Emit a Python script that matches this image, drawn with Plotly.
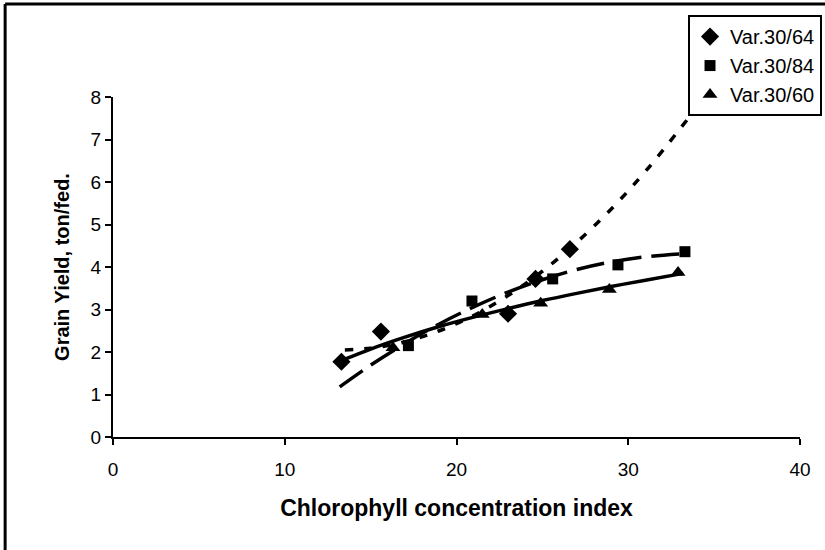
import plotly.graph_objects as go

# --- observed points ---
x_3064 = [13.3, 15.6, 23.0, 24.6, 26.6]
y_3064 = [1.77, 2.48, 2.90, 3.72, 4.42]

x_3084 = [17.2, 20.9, 25.6, 29.4, 33.3]
y_3084 = [2.15, 3.20, 3.72, 4.05, 4.36]

x_3060 = [16.3, 21.5, 24.9, 28.9, 32.9]
y_3060 = [2.10, 2.88, 3.15, 3.47, 3.87]

# --- trend lines ---
tx_3064 = [13.5, 15, 17, 19, 21, 23, 25, 27, 29, 31, 33.5]
ty_3064 = [2.05, 2.09, 2.24, 2.50, 2.86, 3.33, 3.90, 4.58, 5.36, 6.25, 7.50]

tx_3084 = [13.2, 15, 17, 19, 21, 23, 25, 27, 29, 31, 33.5]
ty_3084 = [1.18, 1.69, 2.20, 2.66, 3.06, 3.41, 3.70, 3.94, 4.12, 4.24, 4.32]

tx_3060 = [13.5, 15, 17, 19, 21, 23, 25, 27, 29, 31, 33.2]
ty_3060 = [1.83, 2.07, 2.35, 2.60, 2.82, 3.02, 3.21, 3.38, 3.54, 3.69, 3.85]

names = ["Var.30/64", "Var.30/84", "Var.30/60"]
x_ticks = [0, 10, 20, 30, 40]
y_ticks = [0, 1, 2, 3, 4, 5, 6, 7, 8]

fig = go.Figure()

# trend lines
fig.add_trace(go.Scatter(x=tx_3064, y=ty_3064, mode="lines", showlegend=False,
                         line=dict(color="black", width=3.5, dash="8px,11px", shape="spline")))
fig.add_trace(go.Scatter(x=tx_3084, y=ty_3084, mode="lines", showlegend=False,
                         line=dict(color="black", width=3.5, dash="28px,10px", shape="spline")))
fig.add_trace(go.Scatter(x=tx_3060, y=ty_3060, mode="lines", showlegend=False,
                         line=dict(color="black", width=3.5, shape="spline")))

# markers
fig.add_trace(go.Scatter(x=x_3064, y=y_3064, mode="markers", name=names[0],
                         marker=dict(symbol="diamond", size=14, color="black")))
fig.add_trace(go.Scatter(x=x_3084, y=y_3084, mode="markers", name=names[1],
                         marker=dict(symbol="square", size=11, color="black")))
fig.add_trace(go.Scatter(x=x_3060, y=y_3060, mode="markers", name=names[2],
                         marker=dict(symbol="triangle-up", size=13, color="black")))

font_main = "Liberation Sans, Arial, sans-serif"

fig.update_layout(
    width=825, height=550,
    margin=dict(l=113, r=25, t=97, b=113, autoexpand=False),
    paper_bgcolor="white", plot_bgcolor="white",
    font=dict(family=font_main, color="black", size=19),
    showlegend=True,
    legend=dict(x=0.837, y=1.241, xanchor="left", yanchor="top",
                bordercolor="black", borderwidth=2, bgcolor="white",
                font=dict(size=20, family=font_main), itemwidth=30,
                tracegroupgap=0),
    xaxis=dict(range=[0, 40], tickvals=x_ticks,
               showline=True, linecolor="black", linewidth=2,
               ticks="outside", ticklen=6, tickwidth=2, tickcolor="black",
               ticklabelstandoff=8,
               showgrid=False, zeroline=False,
               tickfont=dict(size=19),
               title=dict(text="<b>Chlorophyll concentration index</b>",
                          font=dict(size=23), standoff=21)),
    yaxis=dict(range=[0, 8], tickvals=y_ticks,
               showline=True, linecolor="black", linewidth=2,
               ticks="outside", ticklen=6, tickwidth=2, tickcolor="black",
               showgrid=False, zeroline=False,
               tickfont=dict(size=19),
               title=dict(text="<b>Grain Yield, ton/fed.</b>",
                          font=dict(size=20), standoff=16)),
    shapes=[
        dict(type="line", xref="paper", yref="paper",
             x0=-0.157, x1=1.04, y0=1.2735, y1=1.2735,
             line=dict(color="black", width=3)),
        dict(type="line", xref="paper", yref="paper",
             x0=-0.157, x1=-0.157, y0=1.2735, y1=-0.34,
             line=dict(color="black", width=3)),
    ],
)

fig.write_html("out.html",
               config={"displayModeBar": False},
               post_script="document.body.style.margin='0';document.body.style.overflow='hidden';")
